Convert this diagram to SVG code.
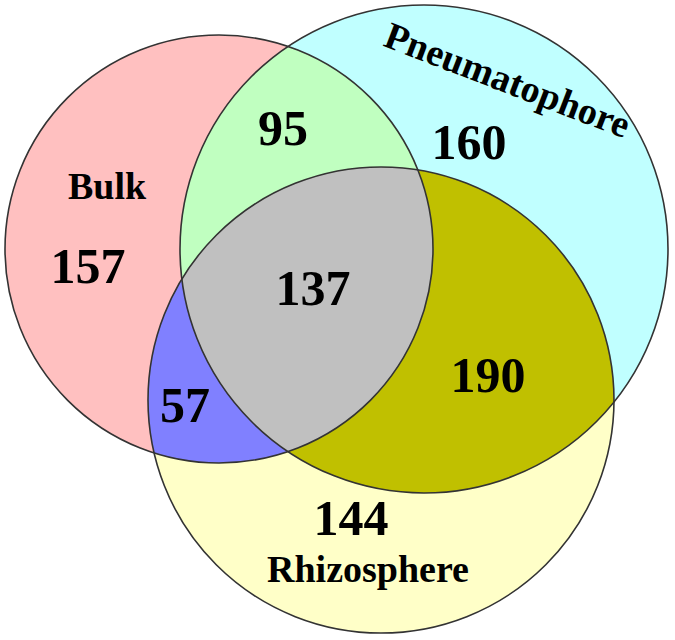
<svg xmlns="http://www.w3.org/2000/svg" width="675" height="640" viewBox="0 0 675 640">
  <style>
    .outline { fill: none; stroke: #333333; stroke-width: 1.6; }
    .num { font-family: "Liberation Serif", "Times New Roman", serif; font-weight: bold; font-size: 50px; fill: #000; text-anchor: middle; }
    .lbl { font-family: "Liberation Serif", "Times New Roman", serif; font-weight: bold; font-size: 38px; fill: #000; text-anchor: middle; }
  </style>
  <defs>
    <clipPath id="clipB"><circle cx="219" cy="249" r="214"/></clipPath>
    <clipPath id="clipP"><circle cx="424" cy="249" r="244"/></clipPath>
  </defs>
  <rect width="675" height="640" fill="#ffffff"/>

  <g id="regions">
    <circle cx="219" cy="249" r="214" fill="#FFC0C0"/>
    <circle cx="424" cy="249" r="244" fill="#C0FFFF"/>
    <circle cx="381" cy="400" r="233" fill="#FFFFC8"/>
    <g clip-path="url(#clipB)">
      <circle cx="424" cy="249" r="244" fill="#C0FFC0"/>
      <circle cx="381" cy="400" r="233" fill="#8080FF"/>
    </g>
    <g clip-path="url(#clipP)">
      <circle cx="381" cy="400" r="233" fill="#C0C000"/>
      <g clip-path="url(#clipB)">
        <circle cx="381" cy="400" r="233" fill="#C0C0C0"/>
      </g>
    </g>
  </g>

  <g id="bulk">
    <circle class="outline" cx="219" cy="249" r="214"/>
    <text class="lbl" x="107" y="199">Bulk</text>
  </g>
  <g id="pneumatophore">
    <circle class="outline" cx="424" cy="249" r="244"/>
    <text class="lbl" x="503" y="92" transform="rotate(21 503 92)">Pneumatophore</text>
  </g>
  <g id="rhizosphere">
    <circle class="outline" cx="381" cy="400" r="233"/>
    <text class="lbl" x="368" y="582">Rhizosphere</text>
  </g>

  <g id="counts">
    <text class="num" x="88" y="283">157</text>
    <text class="num" x="283" y="145">95</text>
    <text class="num" x="469" y="159">160</text>
    <text class="num" x="313" y="305">137</text>
    <text class="num" x="185" y="422">57</text>
    <text class="num" x="488" y="392">190</text>
    <text class="num" x="351" y="535">144</text>
  </g>
</svg>
